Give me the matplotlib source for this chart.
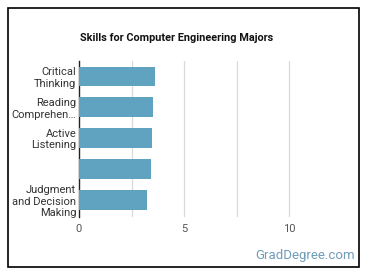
import matplotlib
matplotlib.use("Agg")
import matplotlib.pyplot as plt
from matplotlib.patches import Rectangle

skills = ["Critical\nThinking", "Reading\nComprehen…", "Active\nListening", "",
          "Judgment\nand Decision\nMaking"]
scores = [3.62, 3.53, 3.48, 3.43, 3.24]
x_ticks = [0, 5, 10]
grid_at = [2.5, 5, 7.5, 10]

plt.rcParams['font.family'] = ['Roboto', 'DejaVu Sans']

fig = plt.figure(figsize=(3.7, 2.78), dpi=100)
ax = fig.add_axes([79/370, 61/278, 263/370, 156/278])

ax.barh(range(len(scores)), scores, height=0.64, color="#5fa3c1", zorder=3)
for g in grid_at:
    ax.axvline(g, color="#d9d9d9", lw=0.9, zorder=1)

ax.set_xlim(0, 12.5)
ax.set_ylim(4.55, -0.5)
ax.set_yticks(range(len(skills)))
ax.set_yticklabels(skills, fontsize=8, color="#333333", linespacing=1.15)
ax.set_xticks(x_ticks)
ax.set_xticklabels([str(t) for t in x_ticks], fontsize=8, color="#555555")
ax.tick_params(axis="both", length=0)
ax.tick_params(axis="y", pad=2)
ax.tick_params(axis="x", pad=5)
for s in ["top", "right", "bottom"]:
    ax.spines[s].set_visible(False)
ax.spines["left"].set_color("#222222")
ax.spines["left"].set_linewidth(1.0)

fig.text(177/370, 1 - 38/278, "Skills for Computer Engineering Majors",
         ha="center", va="center", fontsize=7.8, fontweight="bold", color="#111111")
fig.text(355/370, 1 - 255/278, "GradDegree.com", ha="right", va="center",
         fontsize=9.5, color="#6f9cb8")

fig.patches.append(Rectangle((8/370, 11/278), 351/370, 259/278,
                             transform=fig.transFigure, fill=False,
                             edgecolor="black", lw=1.2))

fig.savefig("out.png", dpi=100)
